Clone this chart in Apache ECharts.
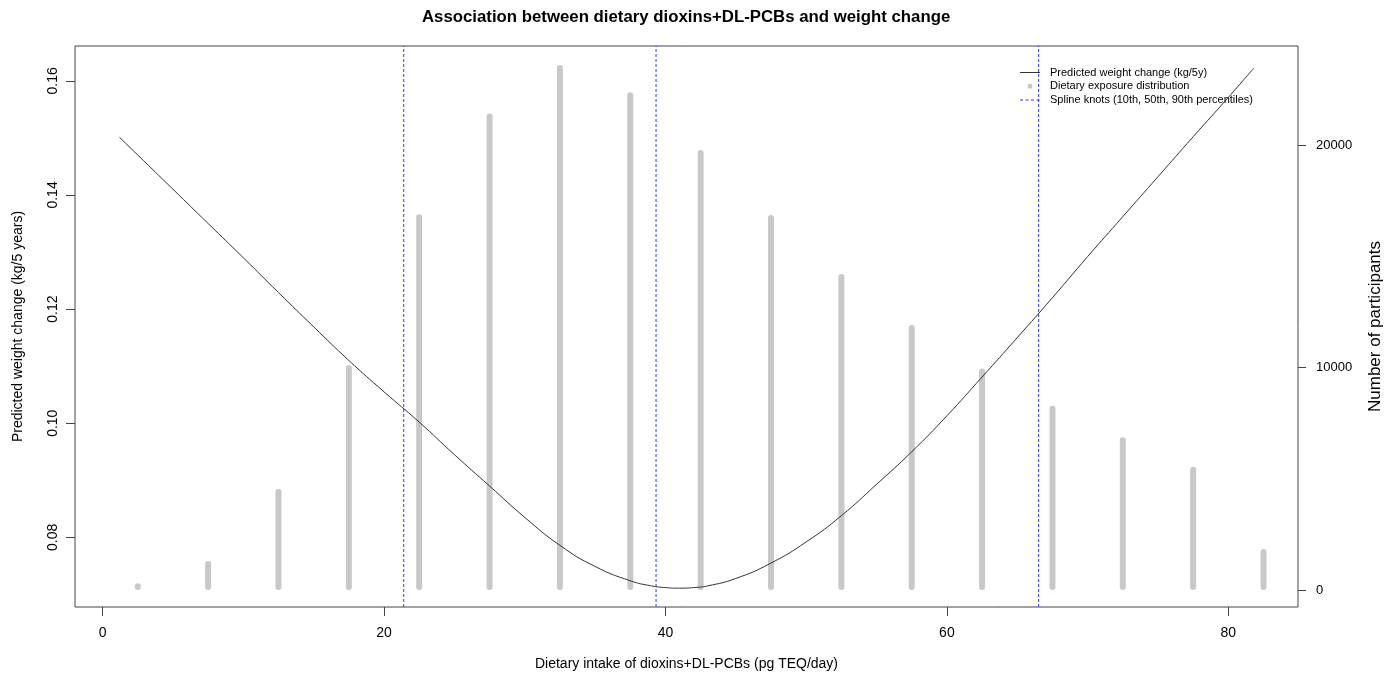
<!DOCTYPE html>
<html><head><meta charset="utf-8">
<script src="https://cdn.jsdelivr.net/npm/echarts@6/dist/echarts.min.js"></script>
<style>html,body{margin:0;padding:0;background:#fff}#c{width:1396px;height:680px}</style>
</head><body><div id="c"></div>
<script>
// Histogram of dietary exposure (bin centres, counts)
const binCenters = [2.5, 7.5, 12.5, 17.5, 22.5, 27.5, 32.5, 37.5, 42.5, 47.5, 52.5, 57.5, 62.5, 67.5, 72.5, 77.5, 82.5];
const binCounts  = [300, 1300, 4540, 10110, 16890, 21420, 23600, 22370, 19780, 16850, 14200, 11910, 9960, 8280, 6860, 5540, 1840];
// Predicted weight change curve
const curveX = [1.2, 2.5, 5, 7.5, 10, 12.5, 15, 17.5, 20, 22.5, 25, 27.5, 30, 32.5, 35, 37.5, 39, 40, 41, 42, 43, 45, 47.5, 50, 52.5, 55, 57.5, 60, 62.5, 65, 67.5, 70, 72.5, 75, 77.5, 80, 81.8];
const curveY = [0.1501, 0.1470, 0.1410, 0.1350, 0.1290, 0.1229, 0.1169, 0.1110, 0.1055, 0.1002, 0.0945, 0.0890, 0.0835, 0.0786, 0.0749, 0.0724, 0.0715, 0.0712, 0.0711, 0.0712, 0.0715, 0.0728, 0.0755, 0.0792, 0.0838, 0.0893, 0.0950, 0.1013, 0.1081, 0.1150, 0.1220, 0.1292, 0.1362, 0.1432, 0.1502, 0.1571, 0.1622];
// Spline knots (10th, 50th, 90th percentiles)
const knots = [21.4, 39.33, 66.52];
// Tick labels
const xTicks = [0, 20, 40, 60, 80];
const yLeftTicks = [0.08, 0.10, 0.12, 0.14, 0.16];
const yRightTicks = [0, 10000, 20000];

// Axis ranges
const X_MIN = -1.96, X_MAX = 84.95;
const YL_MIN = 0.0678, YL_MAX = 0.1661;
const YR_MIN = -764, YR_MAX = 24449;

const FONT = '"Liberation Sans", Arial, sans-serif';
const AX = '#444';
const KNOT = '#3535ff';
const names = ['Predicted weight change (kg/5y)', 'Dietary exposure distribution', 'Spline knots (10th, 50th, 90th percentiles)'];

// vertical knot lines: each spans the full left-axis range, separated by gaps
const knotData = [];
knots.forEach((k, i) => {
  if (i > 0) knotData.push([k, null]);
  knotData.push([k, YL_MIN], [k, YL_MAX]);
});

const chart = echarts.init(document.getElementById('c'), null, {renderer: 'canvas'});
chart.setOption({
  backgroundColor: '#fff',
  animation: false,
  textStyle: {fontFamily: FONT},
  title: {
    text: 'Association between dietary dioxins+DL-PCBs and weight change',
    left: 422, top: 9, padding: 0,
    textStyle: {fontFamily: FONT, fontSize: 16.8, fontWeight: 'bold', color: '#000'}
  },
  legend: {
    orient: 'vertical', left: 1020, top: 66, padding: 0,
    itemWidth: 20, itemHeight: 13, itemGap: 0.8,
    selectedMode: false,
    textStyle: {fontFamily: FONT, fontSize: 11, color: '#000', padding: [0, 0, 0, 5]},
    data: [
      {name: names[0], icon: 'path://M0,0M20,13M0,6h20v1h-20z', itemStyle: {color: '#333'}},
      {name: names[1], icon: 'path://M0,0M20,13M7.8,4.3h4.4v4.4h-4.4z', itemStyle: {color: '#c8c8c8'}},
      {name: names[2], icon: 'path://M0,0M20,13M0,6h3v1h-3zM5.5,6h3v1h-3zM11,6h3v1h-3zM16.5,6h3v1h-3z', itemStyle: {color: KNOT}}
    ]
  },
  grid: {left: 75, right: 98, top: 46, bottom: 73, show: true, borderColor: AX, borderWidth: 1, backgroundColor: 'transparent', containLabel: false},
  xAxis: {
    type: 'value', min: X_MIN, max: X_MAX,
    axisLine: {show: false, onZero: false},
    axisTick: {show: true, length: 9, customValues: xTicks, lineStyle: {color: AX}},
    axisLabel: {customValues: xTicks, margin: 19, fontSize: 14, color: '#000', fontFamily: FONT},
    splitLine: {show: false},
    name: 'Dietary intake of dioxins+DL-PCBs (pg TEQ/day)', nameLocation: 'middle', nameGap: 50,
    nameTextStyle: {fontSize: 14, color: '#000', fontFamily: FONT}
  },
  yAxis: [{
    type: 'value', min: YL_MIN, max: YL_MAX, position: 'left',
    axisLine: {show: false, onZero: false},
    axisTick: {show: true, length: 9, customValues: yLeftTicks, lineStyle: {color: AX}},
    axisLabel: {customValues: yLeftTicks, rotate: 90, margin: 15, fontSize: 14, color: '#000', fontFamily: FONT,
      formatter: v => v.toFixed(2)},
    splitLine: {show: false},
    name: 'Predicted weight change (kg/5 years)', nameLocation: 'middle', nameGap: 50, nameRotate: 90,
    nameTextStyle: {fontSize: 14, color: '#000', fontFamily: FONT}
  }, {
    type: 'value', min: YR_MIN, max: YR_MAX, position: 'right',
    axisLine: {show: false, onZero: false},
    axisTick: {show: true, length: 8, customValues: yRightTicks, lineStyle: {color: AX}},
    axisLabel: {customValues: yRightTicks, margin: 18, fontSize: 13, color: '#000', fontFamily: FONT,
      formatter: v => String(v)},
    splitLine: {show: false},
    name: 'Number of participants', nameLocation: 'middle', nameGap: 69, nameRotate: 90,
    nameTextStyle: {fontSize: 17, color: '#000', fontFamily: FONT}
  }],
  series: [{
    name: names[1], type: 'bar', yAxisIndex: 1, z: 1,
    barWidth: 6,
    itemStyle: {color: '#c8c8c8', borderRadius: 3},
    data: binCenters.map((x, i) => [x, binCounts[i]])
  }, {
    name: names[2], type: 'line', yAxisIndex: 0, z: 2,
    symbol: 'none', showSymbol: false, connectNulls: false, clip: true,
    lineStyle: {color: KNOT, width: 1, type: [3, 2]},
    itemStyle: {color: KNOT},
    data: knotData
  }, {
    name: names[0], type: 'line', yAxisIndex: 0, z: 3,
    symbol: 'none', showSymbol: false, smooth: true,
    lineStyle: {color: '#333', width: 1},
    itemStyle: {color: '#333'},
    data: curveX.map((x, i) => [x, curveY[i]])
  }]
});
</script>
</body></html>
